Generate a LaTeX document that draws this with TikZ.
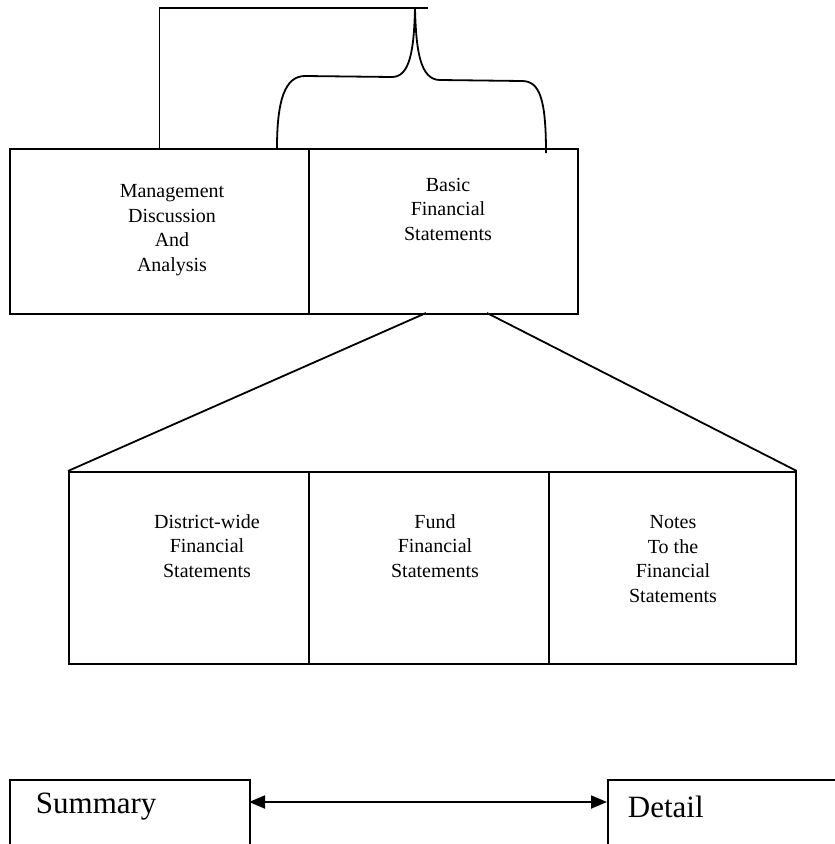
\documentclass[tikz,border=0pt]{standalone}
\usepackage{fontspec}
\setmainfont{Liberation Serif}
\usetikzlibrary{arrows.meta}
\begin{document}
\begin{tikzpicture}[x=1pt,y=-1pt,
  line width=1.8pt,
  box/.style={draw, rectangle, inner sep=0pt, anchor=north west},
  txt/.style={align=center, font=\fontsize{20}{24.5}\selectfont, inner sep=0pt},
  big/.style={font=\fontsize{31}{34}\selectfont, inner sep=0pt, anchor=west},
  tipshape/.style={{Triangle[length=16pt,width=13pt]}-{Triangle[length=16pt,width=13pt]}}]
\useasboundingbox (0,0) rectangle (835,844);
% top boxes
\node[box, minimum width=299pt, minimum height=165pt] (mda) at (9,148) {};
\node[box, minimum width=269pt, minimum height=165pt] (bfs) at (308,148) {};
\node[txt] (mdat) at (172,230) {Management\\Discussion\\And\\Analysis};
\node[txt] (bfst) at (448,209) {Basic\\Financial\\Statements};
% bottom boxes
\node[box, minimum width=240pt, minimum height=192pt] (dw) at (68,471) {};
\node[box, minimum width=240pt, minimum height=192pt] (fund) at (308,471) {};
\node[box, minimum width=247pt, minimum height=192pt] (notes) at (548,471) {};
\node[txt] (dwt) at (207,546) {District-wide\\Financial\\Statements};
\node[txt] (fundt) at (435,546) {Fund\\Financial\\Statements};
\node[txt] (notest) at (673,559) {Notes\\To the\\Financial\\Statements};
% summary / detail
\node[box, minimum width=240pt, minimum height=90pt] (sum) at (9,779) {};
\node[box, minimum width=240pt, minimum height=90pt] (det) at (607,779) {};
\node[big] (sumt) at (35,807) {Summary};
\node[big] (dett) at (627,807) {Detail};
% connectors
\coordinate (topR) at (428,8);
\coordinate (btip) at (415,8);
\coordinate (bl) at (277,148);
\coordinate (br) at (546,153);
\draw (mda.north) |- (topR);
\draw (bl) .. controls (277,100) and (285,76) .. (305,76) -- (392,77)
  .. controls (410,77) and (414,50) .. (btip)
  .. controls (416,50) and (420,80) .. (440,80) -- (522,81)
  .. controls (540,81) and (546,100) .. (br);
\coordinate (dl) at (426,313);
\coordinate (dr) at (487,313);
\draw (dl) -- (dw.north west);
\draw (dr) -- (notes.north east);
\coordinate (al) at (249,802);
\coordinate (ar) at (607,802);
\draw[tipshape] (al) -- (ar);
\end{tikzpicture}
\end{document}
